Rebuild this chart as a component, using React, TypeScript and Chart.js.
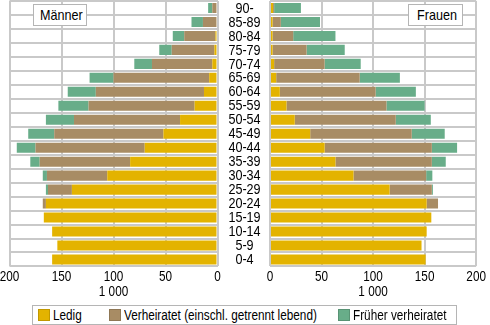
import React, { useEffect, useRef } from 'react';
import { Chart, registerables } from 'chart.js';
Chart.register(...registerables);

const ageGroups = ['90-', '85-89', '80-84', '75-79', '70-74', '65-69', '60-64', '55-59', '50-54', '45-49', '40-44', '35-39', '30-34', '25-29', '20-24', '15-19', '10-14', '5-9', '0-4'];

const ledigM = [1, 1, 2, 3, 5, 8, 13, 22, 36, 52, 70, 84, 106, 140, 165, 167, 159, 154, 159];
const verhM = [4, 13, 30, 41, 58, 92, 104, 102, 102, 105, 105, 87, 58, 23, 3, 0, 0, 0, 0];
const fruehM = [4, 11, 11, 12, 17, 23, 27, 29, 27, 25, 18, 9, 4, 2, 0, 0, 0, 0, 0];

const ledigF = [3, 2.5, 2.5, 2.5, 4, 6, 9.5, 16, 24, 39, 53, 63.5, 81, 116, 152, 156.5, 152, 147, 151];
const verhF = [1, 8, 20, 33, 49, 81, 93, 97, 98, 98.5, 104, 93.5, 70.5, 41, 11, 0, 0, 0, 0];
const fruehF = [26, 38, 41, 37, 35, 39, 39, 37, 34, 32, 24.5, 13.5, 6, 1, 0, 0, 0, 0, 0];

const xTicks = [0, 50, 100, 150, 200];
const unitLabel = '1 000';
const seriesNames = ['Ledig', 'Verheiratet (einschl. getrennt lebend)', 'Früher verheiratet'];
const panelNames = ['Männer', 'Frauen'];

const YELLOW = '#e3b300';
const BROWN = '#a88c64';
const GREEN = '#68ad89';
const GRID = '#c9c9c9';
const FONT = '"Liberation Sans", Arial, sans-serif';
const SQUEEZE = 0.84;
const CLEAR = 'rgba(0,0,0,0)';

function squeezedText(ctx: CanvasRenderingContext2D, text: string, x: number, y: number, size: number) {
  ctx.save();
  ctx.font = `${size}px ${FONT}`;
  ctx.fillStyle = '#000';
  ctx.textAlign = 'center';
  ctx.textBaseline = 'middle';
  ctx.translate(x, y);
  ctx.scale(SQUEEZE, 1);
  ctx.fillText(text, 0, 0);
  ctx.restore();
}

// draws the scales' own tick labels in a condensed face (like Arial Narrow)
const condensedLabels = {
  id: 'condensedLabels',
  afterDraw(chart: any) {
    const ctx = chart.ctx;
    const xs = chart.scales.x;
    const ys = chart.scales.y;
    const area = chart.chartArea;
    xs.ticks.forEach((t: any) => {
      squeezedText(ctx, String(t.value), xs.getPixelForValue(t.value), area.bottom + 11, 14);
    });
    squeezedText(ctx, xs.options.title.text, (area.left + area.right) / 2, area.bottom + 26, 14);
    if (ys.position === 'right') {
      ys.getLabels().forEach((lab: string, i: number) => {
        squeezedText(ctx, lab, area.right + 27, ys.getPixelForValue(i) + 0.5, 15);
      });
    }
  },
};

function buildConfig(side: 'left' | 'right', ledig: number[], verh: number[], frueh: number[]): any {
  const isLeft = side === 'left';
  return {
    type: 'bar',
    data: {
      labels: ageGroups,
      datasets: [
        { label: seriesNames[0], data: ledig, backgroundColor: YELLOW },
        { label: seriesNames[1], data: verh, backgroundColor: BROWN },
        { label: seriesNames[2], data: frueh, backgroundColor: GREEN },
      ],
    },
    plugins: [condensedLabels],
    options: {
      indexAxis: 'y',
      animation: false,
      responsive: false,
      maintainAspectRatio: false,
      layout: { padding: { top: 1, left: isLeft ? 9.5 : 0, right: isLeft ? 0 : 10, bottom: 0 } },
      plugins: { legend: { display: false }, tooltip: { enabled: false } },
      datasets: { bar: { barPercentage: 1, categoryPercentage: 0.72, borderWidth: 0 } },
      scales: {
        x: {
          stacked: true,
          reverse: isLeft,
          min: 0,
          max: 200,
          afterBuildTicks: (s: any) => { s.ticks = xTicks.map((v) => ({ value: v })); },
          ticks: { color: CLEAR, font: { family: FONT, size: 13, lineHeight: 1.25 }, padding: 3, maxRotation: 0, autoSkip: false },
          grid: { color: GRID, lineWidth: 2, drawTicks: false },
          border: { display: false },
          title: { display: true, text: unitLabel, color: CLEAR, font: { family: FONT, size: 13, lineHeight: 1.1 }, padding: 0 },
        },
        y: {
          stacked: true,
          position: isLeft ? 'right' : 'left',
          ticks: { display: false },
          grid: { color: GRID, lineWidth: 2, drawTicks: false },
          border: { display: false },
          afterFit: (s: any) => { s.width = isLeft ? 52.5 : 20; },
        },
      },
    },
  };
}

function Panel({ side, left, width, ledig, verh, frueh }: any) {
  const ref = useRef<HTMLCanvasElement | null>(null);
  useEffect(() => {
    if (!ref.current) return;
    const chart = new Chart(ref.current, buildConfig(side, ledig, verh, frueh));
    return () => chart.destroy();
  }, []);
  return (
    <canvas
      ref={ref}
      width={width}
      height={303}
      style={{ position: 'absolute', left, top: 0, width, height: 303 }}
    />
  );
}

const narrow: React.CSSProperties = {
  display: 'inline-block',
  transform: `scaleX(${SQUEEZE})`,
  transformOrigin: 'left center',
  whiteSpace: 'nowrap',
  fontFamily: FONT,
  color: '#000',
};

const boxStyle: React.CSSProperties = {
  position: 'absolute',
  top: 4,
  height: 20,
  background: '#fff',
  border: '1px solid #b5b5b5',
  fontSize: 15,
  lineHeight: '20px',
  overflow: 'hidden',
};

function LegendItem({ x, color, text }: any) {
  return (
    <div style={{ position: 'absolute', left: x, top: 0, height: 18, display: 'flex', alignItems: 'center', whiteSpace: 'nowrap' }}>
      <div style={{ width: 10, height: 10, background: color, border: '1px solid rgba(0,0,0,0.15)', marginRight: 3, flex: 'none' }} />
      <span style={{ ...narrow, fontSize: 14 }}>{text}</span>
    </div>
  );
}

export default function App() {
  return (
    <div style={{ position: 'fixed', left: 0, top: 0, width: 490, height: 325, background: '#fff', overflow: 'hidden' }}>
      <Panel side="left" left={0} width={270} ledig={ledigM} verh={verhM} frueh={fruehM} />
      <Panel side="right" left={250} width={240} ledig={ledigF} verh={verhF} frueh={fruehF} />
      <div style={{ ...boxStyle, left: 33, width: 52 }}>
        <span style={{ ...narrow, fontSize: 15, position: 'absolute', left: 6 }}>{panelNames[0]}</span>
      </div>
      <div style={{ ...boxStyle, left: 408, width: 53 }}>
        <span style={{ ...narrow, fontSize: 15, position: 'absolute', left: 8 }}>{panelNames[1]}</span>
      </div>
      <div style={{ position: 'absolute', left: 32, top: 305, width: 423, height: 18, border: '1px solid #b5b5b5', background: '#fff' }}>
        <LegendItem x={5} color={YELLOW} text={seriesNames[0]} />
        <LegendItem x={76} color={BROWN} text={seriesNames[1]} />
        <LegendItem x={305} color={GREEN} text={seriesNames[2]} />
      </div>
    </div>
  );
}
